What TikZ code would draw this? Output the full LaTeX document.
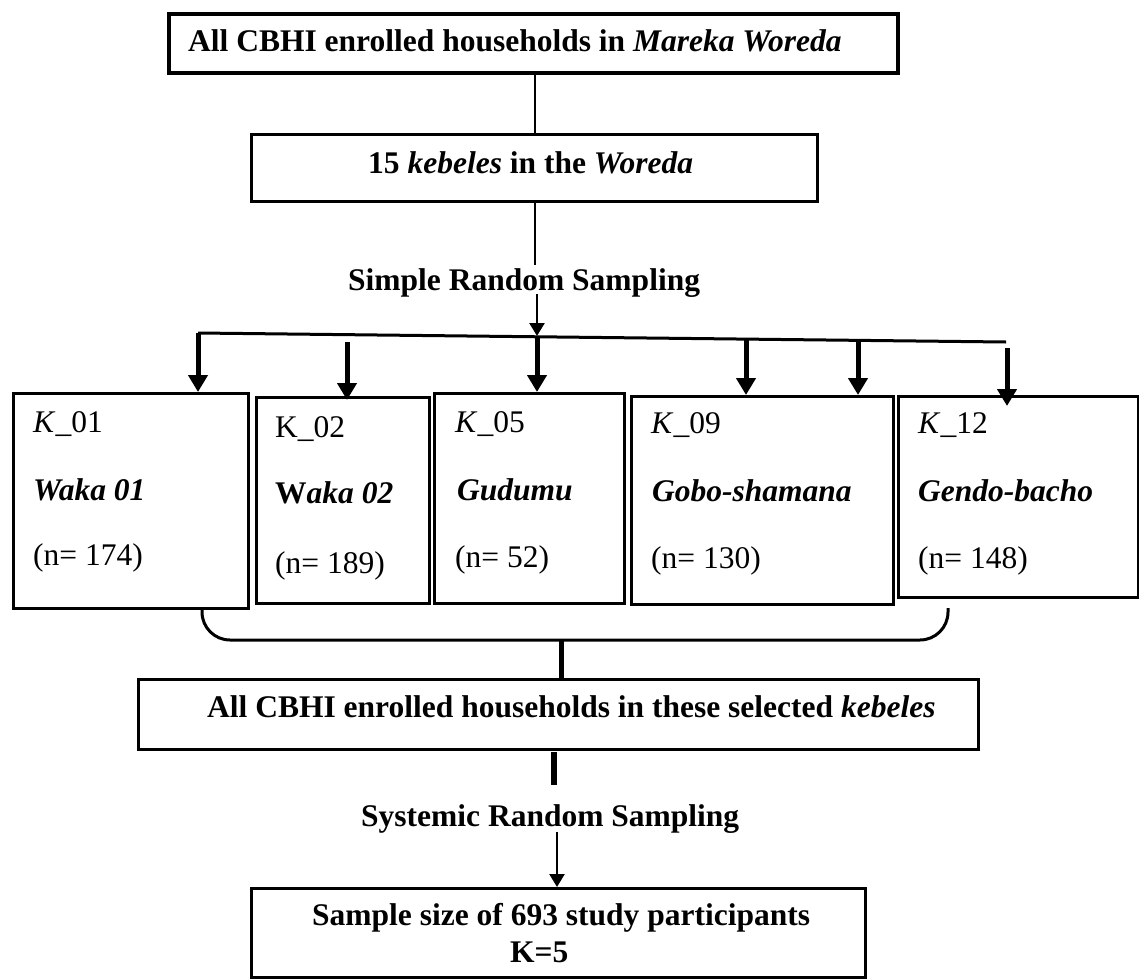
\documentclass[tikz,border=0pt]{standalone}
\usepackage{fontspec}
\setmainfont{Liberation Serif}
\usetikzlibrary{arrows.meta}
\begin{document}
\begin{tikzpicture}[x=1pt,y=-1pt,
  box/.style={draw, line width=2.5pt, inner sep=0pt, anchor=north west},
  txt/.style={inner sep=0pt, anchor=base west, font=\fontsize{31.5}{38}\selectfont},
  btxt/.style={inner sep=0pt, anchor=base west, font=\fontsize{31.5}{38}\selectfont\bfseries},
  bitxt/.style={inner sep=0pt, anchor=base west, font=\fontsize{31.5}{38}\selectfont\bfseries\itshape},
  bigarrow/.style={line width=5pt, -{Triangle[width=19pt,length=17pt]}},
  thinarrow/.style={line width=2.5pt, -{Triangle[width=15pt,length=13pt]}},
  conn/.style={line width=2.5pt},
  heavy/.style={line width=5pt}]
\useasboundingbox (0,0) rectangle (1139,979);

% ---- top part
\node[box, line width=4pt, minimum width=729pt, minimum height=59pt] (top) at (167,12) {};
\node[btxt] (toptxt) at (188,52) {All CBHI enrolled households in \textit{Mareka Woreda}};
\node[box, minimum width=566pt, minimum height=67pt] (sec) at (250,133) {};
\node[btxt] (sectxt) at (368,173) {15 \textit{kebeles} in the \textit{Woreda}};
\node[btxt] (srs) at (348,290) {Simple Random Sampling};

\coordinate (c1) at (535,0);
\draw[conn] (top.south -| c1) -- (sec.north -| c1);
\coordinate (c2a) at (535,200);
\coordinate (c2b) at (535,265);
\draw[conn] (c2a) -- (c2b);

% ---- branching
\coordinate (bL) at (198,333);
\coordinate (bM) at (537,336);
\coordinate (bR) at (1006,342);
\coordinate (srsend) at (537,294);
\draw[line width=3pt] (bL) -- (bR);
\draw[thinarrow] (srsend) -- (bM);

% ---- kebele boxes
\node[box, minimum width=235pt, minimum height=215pt] (k1) at (12,392) {};
\node[box, minimum width=173pt, minimum height=206pt] (k2) at (255,396) {};
\node[box, minimum width=190pt, minimum height=210pt] (k5) at (433,392) {};
\node[box, minimum width=262pt, minimum height=208pt] (k9) at (630,395) {};
\node[box, minimum width=240pt, minimum height=201pt] (k12) at (897,395) {};

\node[txt] (k1a) at (33,432) {\textit{K}\_01};
\node[bitxt] (k1b) at (33,500) {Waka 01};
\node[txt] (k1c) at (33,565) {(n= 174)};

\node[txt] (k2a) at (275,437) {K\_02};
\node[btxt] (k2b) at (275,503) {W\textit{aka 02}};
\node[txt] (k2c) at (275,573) {(n= 189)};

\node[txt] (k5a) at (455,432) {\textit{K}\_05};
\node[bitxt] (k5b) at (457,500) {Gudumu};
\node[txt] (k5c) at (455,567) {(n= 52)};

\node[txt] (k9a) at (651,433) {\textit{K}\_09};
\node[bitxt] (k9b) at (652,501) {Gobo-shamana};
\node[txt] (k9c) at (651,568) {(n= 130)};

\node[txt] (k12a) at (918,433) {\textit{K}\_12};
\node[bitxt] (k12b) at (918,501) {Gendo-bacho};
\node[txt] (k12c) at (918,568) {(n= 148)};

% arrows into boxes
\draw[bigarrow] (bL) -- (bL |- k1.north);
\coordinate (a2s) at (347,342);
\coordinate (a2e) at (347,400);
\draw[bigarrow] (a2s) -- (a2e);
\draw[bigarrow] (bM) -- (bM |- k5.north);
\coordinate (a9s) at (746,339);
\coordinate (a9t) at (858,340);
\draw[bigarrow] (a9s) -- (a9s |- k9.north);
\draw[bigarrow] (a9t) -- (a9t |- k9.north);
\coordinate (a12s) at (1007,348);
\coordinate (a12e) at (1007,406);
\draw[bigarrow] (a12s) -- (a12e);

% ---- bracket
\coordinate (brL) at (202,608);
\coordinate (brR) at (948,608);
\draw[line width=3pt, rounded corners=28pt] (brL) -- (202,640) -- (948,640) -- (brR);

% ---- selected kebeles box
\node[box, line width=3pt, minimum width=840pt, minimum height=70pt] (sel) at (137,678) {};
\node[btxt] (seltxt) at (207,717) {All CBHI enrolled households in these selected \textit{kebeles}};
\coordinate (brM) at (561,640);
\draw[heavy] (brM) -- (brM |- sel.north);

\coordinate (s1) at (554,752);
\coordinate (s2) at (554,785);
\draw[line width=6pt] (s1) -- (s2);

\node[btxt] (sys) at (361,826) {Systemic Random Sampling};

% ---- final box
\node[box, line width=3pt, minimum width=614pt, minimum height=89pt] (fin) at (250,887) {};
\node[btxt] (fin1) at (312,925) {Sample size of 693 study participants};
\node[btxt] (fin2) at (510,962) {K=5};
\coordinate (sysend) at (557,832);
\draw[thinarrow] (sysend) -- (sysend |- fin.north);
\end{tikzpicture}
\end{document}
